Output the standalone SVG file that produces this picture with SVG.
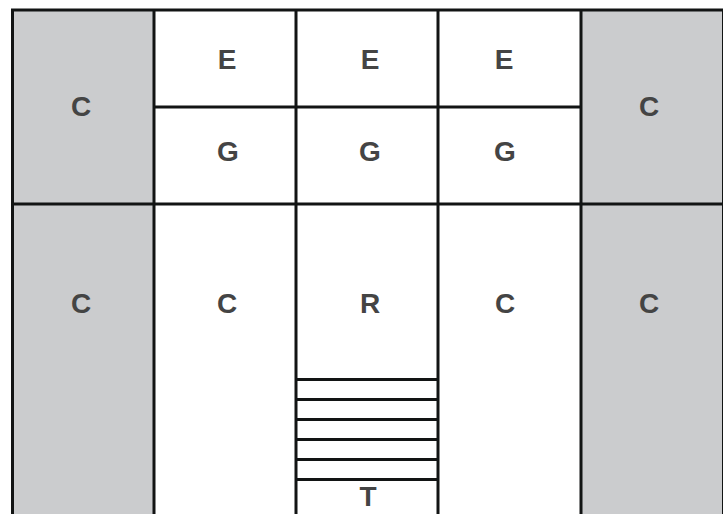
<svg xmlns="http://www.w3.org/2000/svg" width="723" height="514" viewBox="0 0 723 514">
<style>
.g{fill:#cbccce}
.w{fill:#ffffff}
.l{stroke:#121414;stroke-width:3;fill:none}
.t{font-family:"Liberation Sans",Arial,sans-serif;font-weight:bold;font-size:28px;fill:#444;text-anchor:middle}
</style>
<rect width="723" height="514" fill="#fff"/>
<g id="c-top-left"><rect class="g" x="12.5" y="10" width="141.5" height="194"/><text class="t" x="81" y="116">C</text></g>
<g id="c-top-right"><rect class="g" x="581" y="10" width="142" height="194"/><text class="t" x="649" y="116">C</text></g>
<g id="c-bottom-left"><rect class="g" x="12.5" y="204" width="141.5" height="310"/><text class="t" x="81" y="313">C</text></g>
<g id="c-bottom-right"><rect class="g" x="581" y="204" width="142" height="310"/><text class="t" x="649" y="313">C</text></g>
<g id="e1"><rect class="w" x="154" y="10" width="142" height="97"/><text class="t" x="227" y="69">E</text></g>
<g id="e2"><rect class="w" x="296" y="10" width="142" height="97"/><text class="t" x="370" y="69">E</text></g>
<g id="e3"><rect class="w" x="438" y="10" width="143" height="97"/><text class="t" x="504" y="69">E</text></g>
<g id="g1"><rect class="w" x="154" y="107" width="142" height="97"/><text class="t" x="228" y="161">G</text></g>
<g id="g2"><rect class="w" x="296" y="107" width="142" height="97"/><text class="t" x="370" y="161">G</text></g>
<g id="g3"><rect class="w" x="438" y="107" width="143" height="97"/><text class="t" x="505" y="161">G</text></g>
<g id="c-left"><rect class="w" x="154" y="204" width="142" height="310"/><text class="t" x="227" y="313">C</text></g>
<g id="r"><rect class="w" x="296" y="204" width="142" height="175"/><text class="t" x="370" y="313">R</text></g>
<g id="c-right"><rect class="w" x="438" y="204" width="143" height="310"/><text class="t" x="505" y="313">C</text></g>
<g id="stairs">
<path class="l" d="M296 379.5H438M296 399.5H438M296 419.5H438M296 439.5H438M296 459.5H438M296 479.5H438"/>
</g>
<g id="t"><text class="t" x="368" y="506">T</text></g>
<g id="connectors">
<path class="l" d="M11 10H723M12.5 10V514M154 10V514M296 10V514M438 10V514M581 10V514M723.5 10V514M154 107H581M11 204H723"/>
</g>
</svg>
